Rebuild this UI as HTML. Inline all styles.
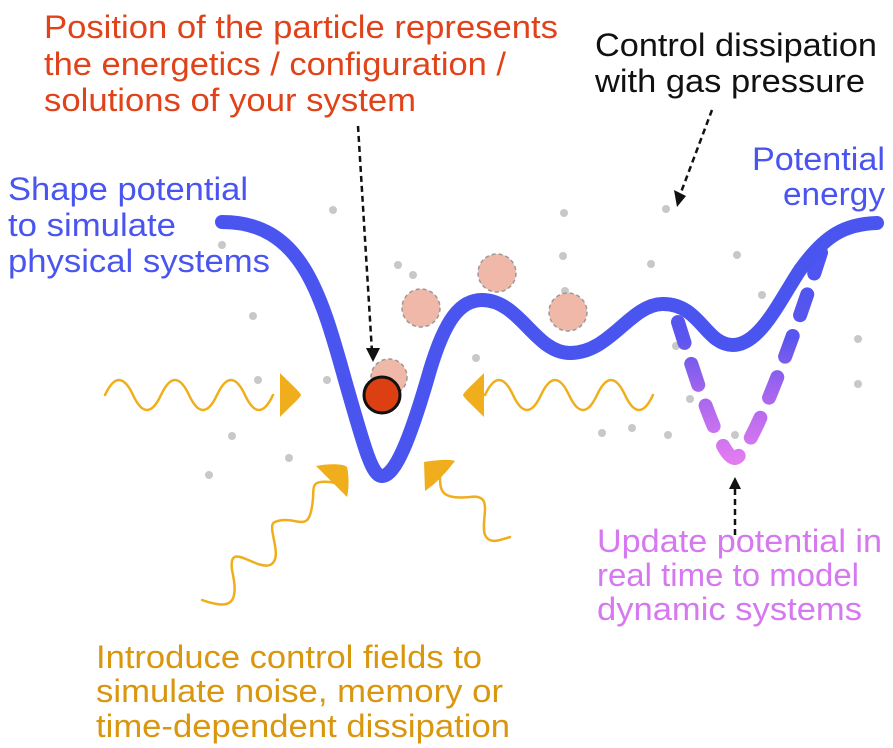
<!DOCTYPE html>
<html><head><meta charset="utf-8"><style>
html,body{margin:0;padding:0;background:#fff;}
svg{display:block;}
text{font-family:"Liberation Sans",Arial,sans-serif;font-size:32px;}
</style></head><body>
<svg width="893" height="748" viewBox="0 0 893 748" xmlns="http://www.w3.org/2000/svg">
<defs>
<linearGradient id="pg" x1="0" y1="0" x2="0" y2="1" gradientUnits="objectBoundingBox">
<stop offset="0" stop-color="#4a55f0"/><stop offset="0.45" stop-color="#5a55ee"/><stop offset="0.7" stop-color="#a465ee"/><stop offset="1" stop-color="#e07bf0"/>
</linearGradient>
</defs>
<g fill="#c8c8c8">
<circle cx="333" cy="210" r="4"/><circle cx="564" cy="213" r="4"/><circle cx="666" cy="209" r="4"/>
<circle cx="398" cy="265" r="4"/><circle cx="413" cy="275" r="4"/><circle cx="563" cy="256" r="4"/><circle cx="651" cy="264" r="4"/><circle cx="737" cy="255" r="4"/>
<circle cx="253" cy="316" r="4"/><circle cx="565" cy="291" r="4"/><circle cx="762" cy="295" r="4"/><circle cx="679" cy="306" r="4"/>
<circle cx="858" cy="339" r="4"/><circle cx="676" cy="346" r="4"/><circle cx="476" cy="358" r="4"/><circle cx="258" cy="380" r="4"/>
<circle cx="327" cy="380" r="4"/><circle cx="858" cy="384" r="4"/><circle cx="690" cy="399" r="4"/>
<circle cx="632" cy="428" r="4"/><circle cx="232" cy="436" r="4"/><circle cx="668" cy="435" r="4"/><circle cx="602" cy="433" r="4"/><circle cx="735" cy="435" r="4"/>
<circle cx="289" cy="458" r="4"/><circle cx="209" cy="475" r="4"/><circle cx="222" cy="245" r="4"/>
</g>
<g fill="#f0b8a8" stroke="#999" stroke-width="1.5" stroke-dasharray="4 3">
<circle cx="421" cy="308" r="19"/><circle cx="497" cy="273" r="19"/><circle cx="568" cy="312" r="19"/><circle cx="389" cy="377" r="18"/>
</g>
<path d="M678 322 C 690 360, 720 460, 735 458 C 752 455, 800 320, 825 240" fill="none" stroke="url(#pg)" stroke-width="14" stroke-linecap="round" stroke-dasharray="22 22"/>
<path d="M222 222 C 300 222, 320 290, 345 380 C 365 450, 372 476, 382 476 C 395 476, 410 440, 430 370 C 445 320, 460 300, 482 300 C 520 300, 535 353, 570 353 C 610 353, 630 305, 662 304 C 700 303, 705 345, 733 345 C 760 345, 780 300, 800 270 C 825 235, 845 224, 877 223" fill="none" stroke="#4a55f0" stroke-width="14" stroke-linecap="round" stroke-linejoin="round"/>
<circle cx="382" cy="395" r="18" fill="#dc3f12" stroke="#111" stroke-width="3"/>
<g fill="none" stroke="#f0ae1c" stroke-width="2.5" stroke-linecap="round">
<path d="M105 395 q14 -30 28 0 t28 0 t28 0 t28 0 t28 0 t28 0"/>
<path d="M485 395 q14 -30 28 0 t28 0 t28 0 t28 0 t28 0 t28 0"/>
<path d="M202 600 C 230 610, 240 605, 232 570 C 228 540, 255 570, 270 565 C 285 558, 265 525, 275 522 C 292 515, 305 530, 310 515 C 318 490, 305 480, 330 482 L345 485"/>
<path d="M440 475 C 440 490, 440 500, 470 497 C 495 493, 480 520, 485 535 C 490 545, 500 540, 510 537"/>
</g>
<g fill="#f0ae1c">
<path d="M280 373 C 292 385, 300 392, 301 395 C 300 398, 292 405, 280 417 Z"/>
<path d="M484 373 C 472 385, 464 392, 463 395 C 464 398, 472 405, 484 417 Z"/>
<path d="M316 466 C 330 463, 345 464, 347 467 C 349 475, 349 490, 347 497 Z"/>
<path d="M424 462 C 436 460, 450 459, 455 461 C 448 470, 437 483, 425 491 Z"/>
</g>
<g stroke="#111" stroke-width="2.5" stroke-dasharray="6 4" fill="none">
<path d="M358 126 L372 352"/>
<path d="M712 110 L680 195"/>
<path d="M735 535 L735 487"/>
</g>
<g fill="#111">
<path d="M366 348 L380 348 L373 362 Z"/>
<path d="M674 190 L686 196 L677 207 Z"/>
<path d="M729 489 L741 489 L735 477 Z"/>
</g>
<g fill="#e0431a">
<text x="44" y="38" textLength="514" lengthAdjust="spacingAndGlyphs">Position of the particle represents</text>
<text x="44" y="75" textLength="462" lengthAdjust="spacingAndGlyphs">the energetics / configuration /</text>
<text x="44" y="111" textLength="372" lengthAdjust="spacingAndGlyphs">solutions of your system</text>
</g>
<g fill="#111">
<text x="595" y="56" textLength="282" lengthAdjust="spacingAndGlyphs">Control dissipation</text>
<text x="595" y="92" textLength="270" lengthAdjust="spacingAndGlyphs">with gas pressure</text>
</g>
<g fill="#4a55f0">
<text x="752" y="170" textLength="133" lengthAdjust="spacingAndGlyphs">Potential</text>
<text x="783" y="205" textLength="102" lengthAdjust="spacingAndGlyphs">energy</text>
<text x="8" y="200" textLength="240" lengthAdjust="spacingAndGlyphs">Shape potential</text>
<text x="8" y="236" textLength="168" lengthAdjust="spacingAndGlyphs">to simulate</text>
<text x="8" y="272" textLength="262" lengthAdjust="spacingAndGlyphs">physical systems</text>
</g>
<g fill="#d678f0">
<text x="597" y="552" textLength="285" lengthAdjust="spacingAndGlyphs">Update potential in</text>
<text x="597" y="586" textLength="262" lengthAdjust="spacingAndGlyphs">real time to model</text>
<text x="597" y="620" textLength="265" lengthAdjust="spacingAndGlyphs">dynamic systems</text>
</g>
<g fill="#d9960f">
<text x="96" y="668" textLength="386" lengthAdjust="spacingAndGlyphs">Introduce control fields to</text>
<text x="96" y="702" textLength="407" lengthAdjust="spacingAndGlyphs">simulate noise, memory or</text>
<text x="96" y="737" textLength="414" lengthAdjust="spacingAndGlyphs">time-dependent dissipation</text>
</g>
</svg>
</body></html>
